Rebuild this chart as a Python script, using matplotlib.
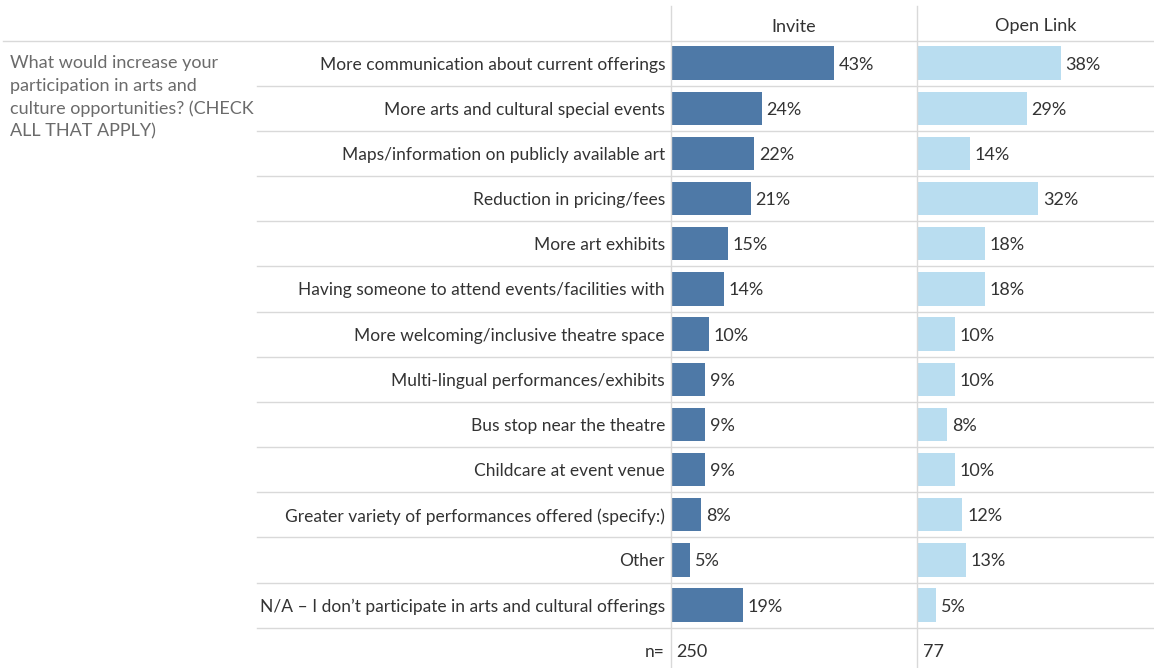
import matplotlib.pyplot as plt
import matplotlib.transforms as mtransforms

# data
categories = [
    "More communication about current offerings",
    "More arts and cultural special events",
    "Maps/information on publicly available art",
    "Reduction in pricing/fees",
    "More art exhibits",
    "Having someone to attend events/facilities with",
    "More welcoming/inclusive theatre space",
    "Multi-lingual performances/exhibits",
    "Bus stop near the theatre",
    "Childcare at event venue",
    "Greater variety of performances offered (specify:)",
    "Other",
    "N/A \u2013 I don\u2019t participate in arts and cultural offerings",
]
invite = [43, 24, 22, 21, 15, 14, 10, 9, 9, 9, 8, 5, 19]
open_link = [38, 29, 14, 32, 18, 18, 10, 10, 8, 10, 12, 13, 5]
n_invite = 250
n_open = 77
groups = ["Invite", "Open Link"]
question = "What would increase your\nparticipation in arts and\nculture opportunities? (CHECK\nALL THAT APPLY)"

plt.rcParams['font.family'] = ['Lato', 'DejaVu Sans']

W, H = 1154, 668
fig = plt.figure(figsize=(W / 100, H / 100), dpi=100)

top = 40.5  # header height in px
row_h = 45.17
px_per_pct = 3.79
panels = [(671, 917), (917, 1154)]
colors = ["#4e79a7", "#b9ddf0"]
grid_c = "#d9d9d9"
txt_c = "#333333"
fs = 12.5

n_rows = len(categories) + 1
ax_h = n_rows * row_h
axes = []
for (x0, x1), vals, nval, col, name in zip(panels, [invite, open_link], [n_invite, n_open], colors, groups):
    ax = fig.add_axes([x0 / W, (H - top - ax_h) / H, (x1 - x0) / W, ax_h / H])
    ax.set_xlim(0, (x1 - x0) / px_per_pct)
    ax.set_ylim(n_rows - 0.5, -0.5)
    ax.axis("off")
    ys = list(range(len(vals)))
    ax.barh(ys, vals, height=0.74, color=col, left=0)
    for y, v in zip(ys, vals):
        ax.text(v + 1.2, y, f"{v}%", va="center_baseline", ha="left", fontsize=13, color=txt_c)
    # n row
    ax.barh(len(vals), 0.3, height=0.9, color=col, clip_on=False)
    ax.text(1.5, len(vals), str(nval), va="center_baseline", ha="left", fontsize=13, color=txt_c)
    axes.append(ax)

ax1 = axes[0]
blend = mtransforms.blended_transform_factory(fig.transFigure, ax1.transData)

# row labels
for i, c in enumerate(categories + ["n="]):
    ax1.text(665 / W, i, c, transform=blend, ha="right", va="center_baseline", fontsize=fs, color=txt_c)

# separators between rows
for i in range(n_rows - 1):
    ax1.plot([257 / W, 1], [i + 0.5, i + 0.5], transform=blend, color=grid_c, lw=1, clip_on=False)

# header line and vertical dividers
fig.add_artist(plt.Line2D([3 / W, 1], [1 - top / H, 1 - top / H], color=grid_c, lw=1))
for x0, _ in panels:
    fig.add_artist(plt.Line2D([x0 / W, x0 / W], [0, 1 - 6 / H], color=grid_c, lw=1))

# column headers
for (x0, x1), name in zip(panels, groups):
    fig.text((x0 + x1) / 2 / W, 1 - 25 / H, name, ha="center", va="center_baseline", fontsize=13, color=txt_c)

# question text
fig.text(10 / W, 1 - 55 / H, question, ha="left", va="top", fontsize=13, color="#6b6b6b", linespacing=1.5)

fig.savefig("out.png", dpi=100)
